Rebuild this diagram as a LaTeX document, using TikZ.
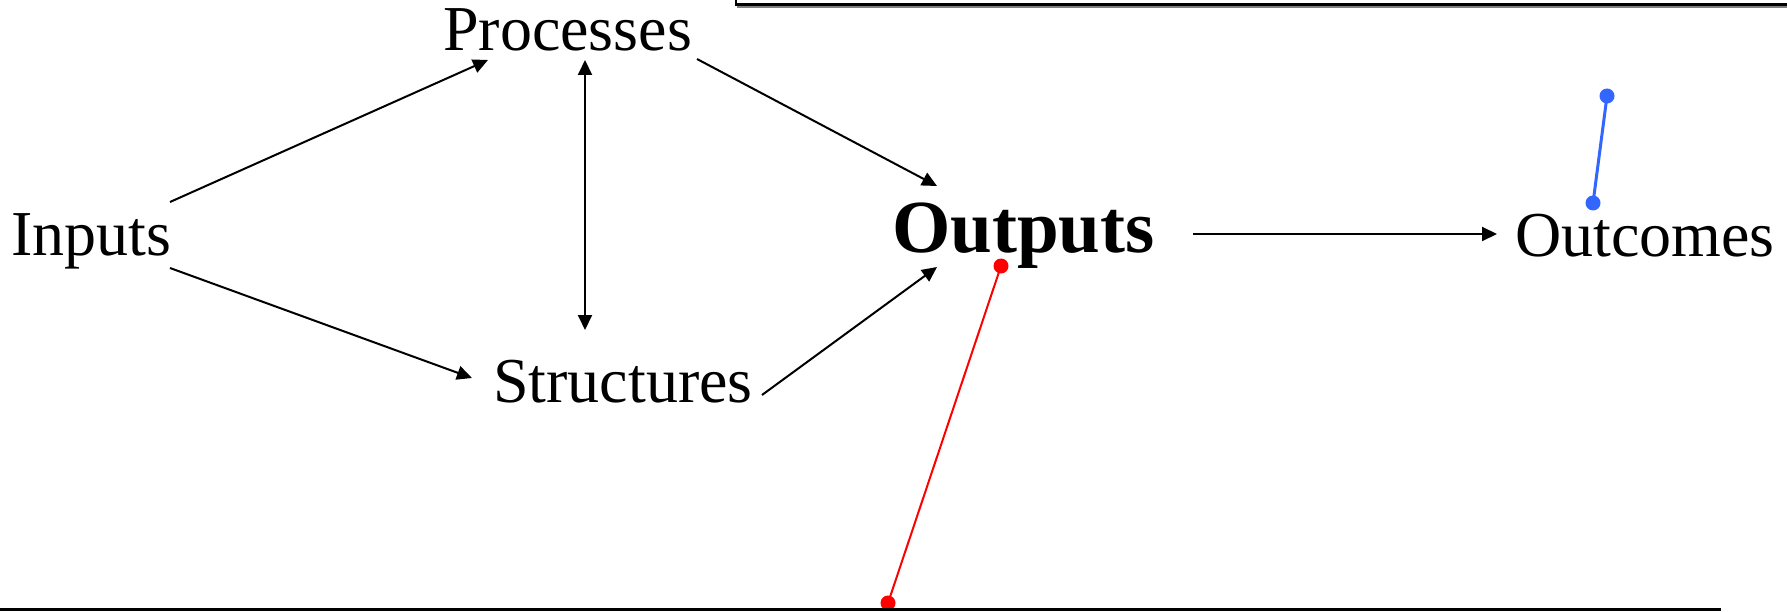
\documentclass[tikz,border=0pt]{standalone}
\usepackage{fontspec}
\setmainfont{Liberation Serif}
\usetikzlibrary{arrows.meta}
\tikzset{
  lbl/.style={anchor=base west, inner sep=0pt, font=\fontsize{64bp}{64bp}\selectfont},
  bold lbl/.style={anchor=base west, inner sep=0pt, font=\fontsize{75bp}{75bp}\selectfont\bfseries},
  arr/.style={line width=2bp, -{Triangle[length=15bp,width=14bp]}},
  darr/.style={line width=2bp, {Triangle[length=15bp,width=14bp]}-{Triangle[length=15bp,width=14bp]}},
  rule/.style={line width=2.5bp, black},
  reddot/.style={circle, fill=red, inner sep=0pt, minimum size=15bp},
  bluedot/.style={circle, fill=bluec, inner sep=0pt, minimum size=15bp},
}
\definecolor{bluec}{HTML}{3366FF}
\begin{document}
\begin{tikzpicture}[x=1bp,y=-1bp]
\useasboundingbox (0,0) rectangle (1787,612);
% texts
\node[lbl] (in) at (11,256) {Inputs};
\node[lbl] (proc) at (443,51) {Processes};
\node[lbl] (str) at (493,402) {Structures};
\node[bold lbl] (out) at (892,253) {Outputs};
\node[lbl] (oc) at (1515,257) {Outcomes};
% connector ends
\coordinate (a1) at (170,202);
\coordinate (a2) at (488,60);
\coordinate (b1) at (170,268);
\coordinate (b2) at (472,378);
\coordinate (c1) at (585,60);
\coordinate (c2) at (585,330);
\coordinate (d1) at (697,59);
\coordinate (d2) at (937,186);
\coordinate (e1) at (762,395);
\coordinate (e2) at (937,267);
\coordinate (f1) at (1193,234);
\coordinate (f2) at (1497,234);
\draw[arr] (a1) -- (a2);
\draw[arr] (b1) -- (b2);
\draw[darr] (c1) -- (c2);
\draw[arr] (d1) -- (d2);
\draw[arr] (e1) -- (e2);
\draw[arr] (f1) -- (f2);
% red pointer
\node[reddot] (r1) at (1001,266) {};
\node[reddot] (r2) at (888,603) {};
\draw[red, line width=2bp] (r1.center) -- (r2.center);
% blue pointer
\node[bluedot] (bl1) at (1607,96) {};
\node[bluedot] (bl2) at (1593,203) {};
\draw[bluec, line width=3bp] (bl1.center) -- (bl2.center);
% frame lines
\coordinate (t0) at (736,0);
\coordinate (t1) at (736,4.5);
\coordinate (t2) at (1787,4.5);
\draw[rule] (t0) -- (t1) -- (t2);
\draw[gray, line width=1.5bp] (737,7) -- (1787,7);
\coordinate (u1) at (0,609.5);
\coordinate (u2) at (1721,609.5);
\draw[rule, line width=3bp] (u1) -- (u2);
\end{tikzpicture}
\end{document}
